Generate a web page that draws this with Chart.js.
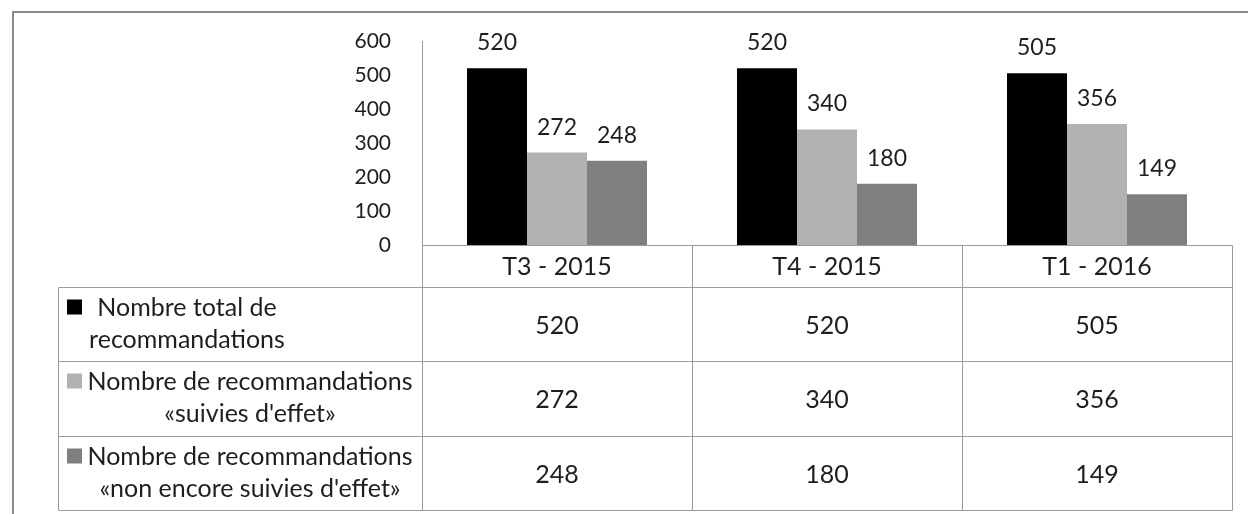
<!DOCTYPE html>
<html>
<head>
<meta charset="utf-8">
<script src="https://cdn.jsdelivr.net/npm/chart.js@4.4.1/dist/chart.umd.min.js"></script>
<style>
  html, body { margin: 0; padding: 0; background: #fff; }
  #wrap { width: 1248px; height: 514px; position: relative; }
</style>
</head>
<body>
<div id="wrap"><canvas id="chart"></canvas></div>
<script>
const categories = ['T3 - 2015', 'T4 - 2015', 'T1 - 2016'];
const totalReco = [520, 520, 505];
const suivies = [272, 340, 356];
const nonSuivies = [248, 180, 149];
const yTicks = [0, 100, 200, 300, 400, 500, 600];
const seriesNames = [
    ['Nombre total de', 'recommandations'],
    ['Nombre de recommandations', '«suivies d\'effet»'],
    ['Nombre de recommandations', '«non encore suivies d\'effet»']
];
const seriesColors = ['#000000', '#b2b2b2', '#7f7f7f'];

const FONT = 'Lato, "Open Sans", sans-serif';
const TEXT = '#1e1e1e';
const LINE = '#9a9a9a';

// data table + frame, columns taken from the x scale
const tablePlugin = {
    id: 'dataTable',
    afterDraw(chart) {
        const ctx = chart.ctx;
        const x = chart.scales.x;
        const y = chart.scales.y;
        const half = (x.getPixelForValue(1) - x.getPixelForValue(0)) / 2;
        const edges = categories.map((c, i) => Math.round(x.getPixelForValue(i) - half) + 0.5);
        edges.push(Math.round(x.getPixelForValue(categories.length - 1) + half) + 0.5);
        const top = Math.round(y.getPixelForValue(0)) + 0.5;
        const headBottom = top + 41;
        const rowH = 74.5;
        const rows = [0, 1, 2, 3].map(k => Math.round(headBottom + k * rowH) + 0.5);
        const legendLeft = 58.5;

        ctx.save();
        // outer frame
        ctx.strokeStyle = '#8c8c8c';
        ctx.lineWidth = 2;
        ctx.beginPath();
        ctx.moveTo(13, 514);
        ctx.lineTo(13, 12);
        ctx.lineTo(1248, 12);
        ctx.stroke();

        ctx.strokeStyle = LINE;
        ctx.lineWidth = 1;
        ctx.beginPath();
        ctx.moveTo(edges[0], top);
        ctx.lineTo(edges[edges.length - 1], top);
        rows.forEach(r => {
            ctx.moveTo(legendLeft, r);
            ctx.lineTo(edges[edges.length - 1], r);
        });
        edges.forEach(e => {
            ctx.moveTo(e, top);
            ctx.lineTo(e, rows[rows.length - 1]);
        });
        ctx.moveTo(legendLeft, rows[0]);
        ctx.lineTo(legendLeft, rows[rows.length - 1]);
        ctx.stroke();

        ctx.fillStyle = TEXT;
        ctx.font = '25px ' + FONT;
        ctx.textAlign = 'center';
        ctx.textBaseline = 'middle';
        categories.forEach((c, i) => {
            ctx.fillText(c, x.getPixelForValue(i), (top + headBottom) / 2 + 1);
        });

        const series = [totalReco, suivies, nonSuivies];
        const textCenters = [187, 250, 250];
        series.forEach((vals, r) => {
            const rTop = rows[r], rBot = rows[r + 1];
            vals.forEach((v, i) => {
                ctx.fillText(String(v), x.getPixelForValue(i), (rTop + rBot) / 2 + 1);
            });
            ctx.fillStyle = seriesColors[r];
            ctx.fillRect(67, rTop + 12, 15, 15);
            ctx.fillStyle = TEXT;
            ctx.textBaseline = 'alphabetic';
            ctx.fillText(seriesNames[r][0], textCenters[r], rTop + 28);
            ctx.fillText(seriesNames[r][1], textCenters[r], rTop + 60);
            ctx.textBaseline = 'middle';
        });
        ctx.restore();
    }
};

const valueLabels = {
    id: 'valueLabels',
    afterDatasetsDraw(chart) {
        const ctx = chart.ctx;
        ctx.save();
        ctx.fillStyle = TEXT;
        ctx.font = '23px ' + FONT;
        ctx.textAlign = 'center';
        ctx.textBaseline = 'alphabetic';
        chart.data.datasets.forEach((ds, di) => {
            chart.getDatasetMeta(di).data.forEach((bar, i) => {
                ctx.fillText(String(ds.data[i]), bar.x, bar.y - 18);
            });
        });
        ctx.restore();
    }
};

new Chart(document.getElementById('chart'), {
    type: 'bar',
    data: {
        labels: categories,
        datasets: [
            { label: seriesNames[0].join(' '), data: totalReco, backgroundColor: seriesColors[0] },
            { label: seriesNames[1].join(' '), data: suivies, backgroundColor: seriesColors[1] },
            { label: seriesNames[2].join(' '), data: nonSuivies, backgroundColor: seriesColors[2] }
        ]
    },
    options: {
        responsive: true,
        maintainAspectRatio: false,
        animation: false,
        devicePixelRatio: 1,
        categoryPercentage: 2 / 3,
        barPercentage: 1,
        layout: { padding: { left: 0, top: 41, right: 16, bottom: 269 } },
        plugins: { legend: { display: false }, tooltip: { enabled: false } },
        scales: {
            x: { display: false },
            y: {
                min: 0,
                max: 600,
                afterBuildTicks(scale) { scale.ticks = yTicks.map(v => ({ value: v })); },
                afterFit(scale) {
                    scale.width = 422;
                    scale.paddingTop = 0;
                    scale.paddingBottom = 0;
                },
                grid: { display: false, drawTicks: false },
                border: { display: true, color: LINE, width: 1 },
                ticks: { padding: 31, color: TEXT, font: { family: FONT, size: 21 } }
            }
        }
    },
    plugins: [tablePlugin, valueLabels]
});
</script>
</body>
</html>
